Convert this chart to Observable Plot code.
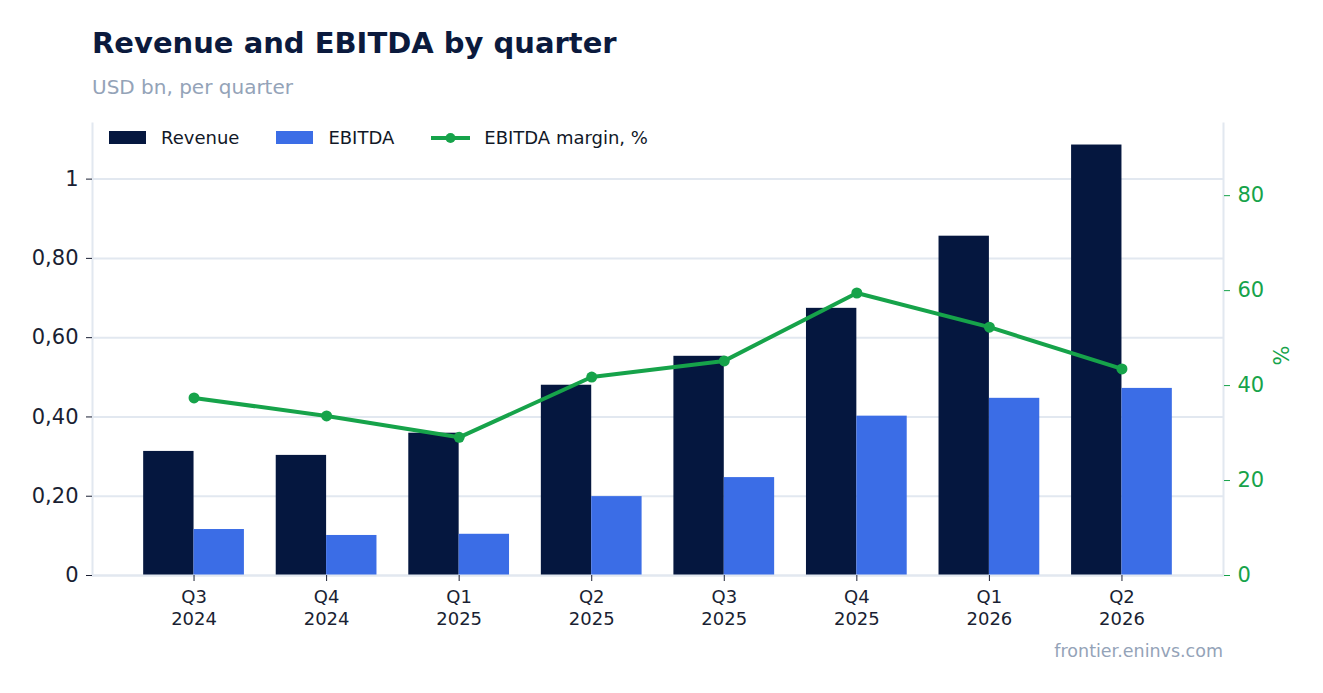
<!DOCTYPE html>
<html>
<head>
<meta charset="utf-8">
<script src="https://cdn.jsdelivr.net/npm/d3@7"></script>
<script src="https://cdn.jsdelivr.net/npm/@observablehq/plot@0.6"></script>
<style>
  html, body { margin: 0; padding: 0; background: #fff; }
  body { width: 1323px; height: 693px; position: relative; overflow: hidden; font-family: "DejaVu Sans", sans-serif; }
  .title { position: absolute; left: 92px; top: 26px; font-size: 29px; font-weight: bold; color: #0b1a3d; white-space: nowrap; }
  .subtitle { position: absolute; left: 92px; top: 75px; font-size: 20px; color: #94a3b8; white-space: nowrap; }
  .caption { position: absolute; right: 100px; top: 641px; font-size: 17.5px; color: #94a3b8; white-space: nowrap; }
  #chart { position: absolute; left: 0; top: 105px; }
  .legend { position: absolute; left: 109px; top: 127px; display: flex; align-items: center; font-size: 18px; color: #111827; }
  .legend .item { display: flex; align-items: center; margin-right: 37px; }
  .legend .sw { width: 37px; height: 13px; margin-right: 15px; }
  .legend svg { margin-right: 14px; }
</style>
</head>
<body>
<div class="title">Revenue and EBITDA by quarter</div>
<div class="subtitle">USD bn, per quarter</div>
<div id="chart"></div>
<div class="legend" id="legend"></div>
<div class="caption">frontier.eninvs.com</div>
<script>
const quarters = ["Q3 2024","Q4 2024","Q1 2025","Q2 2025","Q3 2025","Q4 2025","Q1 2026","Q2 2026"];
const revenue = [0.313, 0.303, 0.359, 0.480, 0.553, 0.674, 0.856, 1.086];
const ebitda = [0.116, 0.101, 0.104, 0.199, 0.247, 0.402, 0.447, 0.472];
const marginPct = [37.4, 33.6, 29.1, 41.8, 45.2, 59.5, 52.3, 43.5];
const leftTicks = [0, 0.2, 0.4, 0.6, 0.8, 1];
const leftTickLabels = ["0", "0,20", "0,40", "0,60", "0,80", "1"];
const rightTicks = [0, 20, 40, 60, 80];
const seriesNames = ["Revenue", "EBITDA", "EBITDA margin, %"];

const colors = { revenue: "#05173f", ebitda: "#3b6de6", margin: "#16a34a", grid: "#e2e8f0", ink: "#1a1f33" };

const data = quarters.map((q, i) => ({ quarter: q, revenue: revenue[i], ebitda: ebitda[i], margin: marginPct[i] }));

const W = 1323, H = 535;
const mL = 92, mR = 100, mT = 18, mB = 65;
const padInner = 0.24, padOuter = 0.386;
const step = (W - mL - mR) / (quarters.length - padInner + 2 * padOuter);
const half = step * (1 - padInner) / 2;

const yMax = 1.05 * d3.max(revenue);
const rMax = 1.6 * d3.max(marginPct);
const k = rMax / yMax;

const chart = Plot.plot({
  width: W, height: H,
  marginLeft: mL, marginRight: mR, marginTop: mT, marginBottom: mB,
  style: { fontFamily: "DejaVu Sans, sans-serif", background: "transparent" },
  x: { type: "band", domain: quarters, paddingInner: padInner, paddingOuter: padOuter, round: false },
  y: { domain: [0, yMax] },
  marks: [
    Plot.gridY(leftTicks, { stroke: colors.grid, strokeOpacity: 1, strokeWidth: 2 }),
    Plot.barY(data, { x: "quarter", y: "revenue", fill: colors.revenue, insetLeft: 0, insetRight: half }),
    Plot.barY(data, { x: "quarter", y: "ebitda", fill: colors.ebitda, insetLeft: half, insetRight: 0 }),
    Plot.ruleY([0], { stroke: colors.grid, strokeWidth: 2 }),
    Plot.frame({ anchor: "left", stroke: colors.grid, strokeWidth: 2 }),
    Plot.frame({ anchor: "right", stroke: colors.grid, strokeWidth: 2 }),
    Plot.line(data, { x: "quarter", y: d => d.margin / k, stroke: colors.margin, strokeWidth: 4 }),
    Plot.dot(data, { x: "quarter", y: d => d.margin / k, fill: colors.margin, r: 5.5 }),
    Plot.axisY(leftTicks, { anchor: "left", tickFormat: d => leftTickLabels[leftTicks.indexOf(d)], tickSize: 6, tickPadding: 8, fontSize: 21, fill: colors.ink, stroke: colors.ink, label: null }),
    Plot.axisY(rightTicks.map(v => v / k), { anchor: "right", tickFormat: d => String(Math.round(d * k)), tickSize: 6, tickPadding: 8, fontSize: 21, color: colors.margin, label: null }),
    Plot.axisX({ tickFormat: d => d.replace(" ", "\n"), tickSize: 6, tickPadding: 7, fontSize: 18, lineHeight: 1.17, fill: colors.ink, stroke: colors.ink, label: null }),
    Plot.text(["%"], { frameAnchor: "right", dx: 59, dy: -4, rotate: -90, fill: colors.margin, fontSize: 21 })
  ]
});
document.getElementById("chart").appendChild(chart);

const legend = document.getElementById("legend");
legend.innerHTML =
  `<div class="item"><div class="sw" style="background:${colors.revenue}"></div><span>${seriesNames[0]}</span></div>` +
  `<div class="item"><div class="sw" style="background:${colors.ebitda}"></div><span>${seriesNames[1]}</span></div>` +
  `<div class="item"><svg width="39" height="14"><line x1="0" y1="7" x2="39" y2="7" stroke="${colors.margin}" stroke-width="4"/><circle cx="19.5" cy="7" r="5" fill="${colors.margin}"/></svg><span>${seriesNames[2]}</span></div>`;
</script>
</body>
</html>
